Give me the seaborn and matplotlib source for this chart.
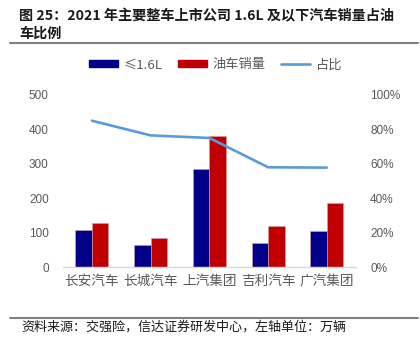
import matplotlib
matplotlib.use("Agg")
import matplotlib.pyplot as plt
import seaborn as sns
import pandas as pd
from matplotlib.patches import Patch
from matplotlib.lines import Line2D

sns.set_theme(style="white")
plt.rcParams['font.family'] = ['Noto Sans CJK SC', 'DejaVu Sans']

companies = ["长安汽车", "长城汽车", "上汽集团", "吉利汽车", "广汽集团"]
small_engine = [108, 64, 286, 69, 106]
fuel_total = [127, 85, 382, 119, 185]
share = [0.85, 0.765, 0.75, 0.58, 0.578]
series_names = ["≤1.6L", "油车销量", "占比"]
left_ticks = [0, 100, 200, 300, 400, 500]
right_ticks = [0, 0.2, 0.4, 0.6, 0.8, 1.0]

df = pd.DataFrame({
    "company": companies * 2,
    "value": small_engine + fuel_total,
    "series": [series_names[0]] * 5 + [series_names[1]] * 5,
})

fig = plt.figure(figsize=(4.2, 3.54), dpi=100)
ax = fig.add_axes([0.149, 0.245, 0.699, 0.487])

blue = "#000088"
red = "#C00000"
lineblue = "#5B9BD5"
gray = "#595959"

sns.barplot(data=df, x="company", y="value", hue="series", order=companies,
            palette=[blue, red], saturation=1, width=0.56, gap=0, ax=ax,
            legend=False, edgecolor="#d0a0a8", linewidth=0.4)
ax.set_ylim(0, 500)
ax.set_xlim(-0.5, 4.5)
ax.set_yticks(left_ticks)
ax.set_yticklabels([str(t) for t in left_ticks], color=gray, fontsize=8.5,
                   family=['Liberation Sans', 'DejaVu Sans'])
ax.set_xlabel("")
ax.set_ylabel("")
ax.tick_params(axis='y', length=0, pad=10)
ax.tick_params(axis='x', length=0, pad=5)
ax.set_xticks(range(len(companies)))
ax.set_xticklabels(companies, fontsize=9.8, color=gray)
for s in ["top", "right", "left"]:
    ax.spines[s].set_visible(False)
ax.spines["bottom"].set_color("#d9d9d9")
ax.spines["bottom"].set_linewidth(1)

ax2 = ax.twinx()
sns.lineplot(x=list(range(len(companies))), y=share, ax=ax2, color=lineblue,
             linewidth=1.9)
ax2.set_ylim(0, 1.0)
ax2.set_yticks(right_ticks)
ax2.set_yticklabels([f"{int(round(t*100))}%" for t in right_ticks], color=gray,
                    fontsize=8.5, family=['Liberation Sans', 'DejaVu Sans'])
ax2.tick_params(axis='y', length=0, pad=10)
for s in ["top", "right", "left", "bottom"]:
    ax2.spines[s].set_visible(False)

handles = [Patch(facecolor=blue, edgecolor=blue),
           Patch(facecolor=red, edgecolor=red),
           Line2D([0], [0], color=lineblue, linewidth=1.9)]
fig.legend(handles, series_names, loc="center", bbox_to_anchor=(0.513, 0.817),
           ncol=3, frameon=False, fontsize=9.5, handlelength=2.2,
           handleheight=0.45, columnspacing=1.2, handletextpad=0.4,
           labelcolor=gray)

fig.text(0.045, 0.955, "图 25：2021 年主要整车上市公司 1.6L 及以下汽车销量占油",
         fontsize=10.2, fontweight='bold', color="#1a1a1a", va="center", ha="left")
fig.text(0.045, 0.905, "车比例", fontsize=10.2, fontweight='bold',
         color="#1a1a1a", va="center", ha="left")
fig.add_artist(Line2D([0.024, 0.995], [0.878, 0.878], color="#808080",
                      linewidth=1.5, transform=fig.transFigure))
fig.add_artist(Line2D([0.024, 0.995], [0.102, 0.102], color="#808080",
                      linewidth=1.5, transform=fig.transFigure))
fig.text(0.05, 0.075, "资料来源：交强险，信达证券研发中心，左轴单位：万辆",
         fontsize=9.4, color="#1a1a1a", va="center", ha="left", style='italic')

fig.savefig("out.png", dpi=100)
